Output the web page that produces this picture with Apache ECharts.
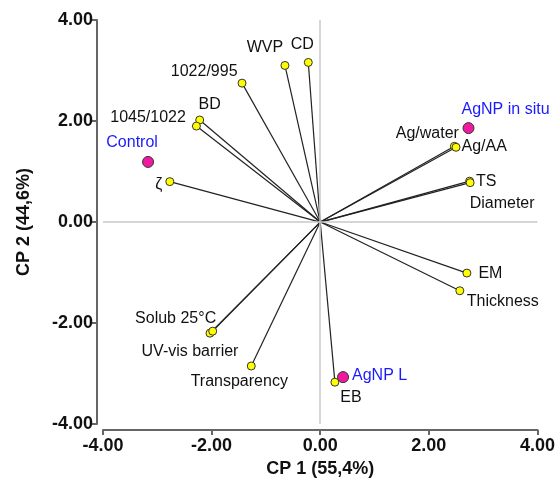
<!DOCTYPE html>
<html>
<head>
<meta charset="utf-8">
<script src="https://cdn.jsdelivr.net/npm/echarts@6/dist/echarts.min.js"></script>
<style>
  html, body { margin: 0; padding: 0; background: #fff; }
  #chart { width: 558px; height: 483px; }
</style>
</head>
<body>
<div id="chart"></div>
<script>
// variables (loadings), drawn as vectors from the origin
const varNames = ['CD', 'WVP', '1022/995', 'BD', '1045/1022', 'ζ', 'Ag/water', 'Ag/AA', 'TS', 'Diameter', 'EM', 'Thickness', 'EB', 'Transparency', 'UV-vis barrier', 'Solub 25°C']
const varX = [-0.22, -0.65, -1.44, -2.22, -2.28, -2.77, 2.47, 2.50, 2.75, 2.76, 2.70, 2.57, 0.27, -1.27, -2.03, -1.98]
const varY = [3.16, 3.10, 2.75, 2.02, 1.90, 0.80, 1.50, 1.48, 0.81, 0.78, -1.01, -1.36, -3.17, -2.85, -2.20, -2.16]

// samples (scores)
const obsNames = ['Control', 'AgNP in situ', 'AgNP L']
const obsX = [-3.17, 2.73, 0.42]
const obsY = [1.19, 1.86, -3.07]

const axisTicks = [-4, -2, 0, 2, 4]

// label placement: [position, dx, dy]
const labelPlace = {
  'CD': ['top', -6, 0],
  'WVP': ['top', -20, 0],
  '1022/995': ['left', 5, -12],
  'BD': ['top', 10, 2],
  '1045/1022': ['left', -1, -8],
  'ζ': ['left', 2, 3],
  'Ag/water': ['left', 14, -13],
  'Ag/AA': ['right', -4, -1],
  'TS': ['right', -3, 0],
  'Diameter': ['bottom', 32, 3],
  'EM': ['right', 2, 1],
  'Thickness': ['bottom', 43, -7],
  'EB': ['bottom', 16, -2],
  'Transparency': ['bottom', -12, -2],
  'UV-vis barrier': ['bottom', -20, 1],
  'Solub 25°C': ['left', 13, -13],
  'Control': ['top', -16, 0],
  'AgNP in situ': ['top', 37, 0],
  'AgNP L': ['right', -2, -2]
}

const font = "'Liberation Sans', Arial, sans-serif"

function withLabel(name, x, y, color) {
  const p = labelPlace[name]
  return {
    name: name,
    value: [x, y],
    label: {
      show: true,
      formatter: name,
      position: p[0],
      offset: [p[1], p[2]],
      color: color,
      fontSize: 16,
      fontFamily: font
    }
  }
}

const axisCommon = {
  type: 'value',
  min: -4,
  max: 4,
  interval: 2,
  offset: 6,
  axisLine: { onZero: false, lineStyle: { color: '#666', width: 2 } },
  axisTick: { show: true, length: 5, lineStyle: { color: '#666', width: 2 } },
  splitLine: { show: false },
  nameLocation: 'middle',
  nameTextStyle: { color: '#111', fontSize: 18, fontWeight: 'bold', fontFamily: font }
}

let chart = echarts.init(document.getElementById('chart'))
chart.setOption({
  animation: false,
  grid: { left: 103, right: 18, top: 20, bottom: 56 },
  xAxis: Object.assign({}, axisCommon, {
    name: 'CP 1 (55,4%)',
    nameGap: 24,
    axisLabel: {
      margin: 7, color: '#111', fontSize: 18, fontWeight: 'bold', fontFamily: font,
      formatter: v => axisTicks.includes(v) ? v.toFixed(2) : ''
    }
  }),
  yAxis: Object.assign({}, axisCommon, {
    name: 'CP 2 (44,6%)',
    nameGap: 64,
    axisLabel: {
      margin: 4, color: '#111', fontSize: 18, fontWeight: 'bold', fontFamily: font,
      formatter: v => axisTicks.includes(v) ? v.toFixed(2) : ''
    }
  }),
  series: [
    {
      // zero reference lines
      type: 'line',
      data: [],
      z: 1,
      silent: true,
      markLine: {
        symbol: 'none',
        silent: true,
        label: { show: false },
        lineStyle: { color: '#c8c8c8', width: 1.5, type: 'solid' },
        data: [{ xAxis: 0 }, { yAxis: 0 }]
      }
    },
    {
      type: 'lines',
      coordinateSystem: 'cartesian2d',
      z: 2,
      silent: true,
      lineStyle: { color: '#222', width: 1.2, opacity: 1 },
      data: varNames.map((n, i) => ({ coords: [[0, 0], [varX[i], varY[i]]] }))
    },
    {
      type: 'scatter',
      z: 3,
      symbolSize: 8,
      itemStyle: { color: '#ffff00', borderColor: '#333', borderWidth: 1, opacity: 1 },
      data: varNames.map((n, i) => withLabel(n, varX[i], varY[i], '#111'))
    },
    {
      type: 'scatter',
      z: 4,
      symbolSize: 11,
      itemStyle: { color: '#f01aa0', borderColor: '#333', borderWidth: 1, opacity: 1 },
      data: obsNames.map((n, i) => withLabel(n, obsX[i], obsY[i], '#1a1aff'))
    }
  ]
})
</script>
</body>
</html>
